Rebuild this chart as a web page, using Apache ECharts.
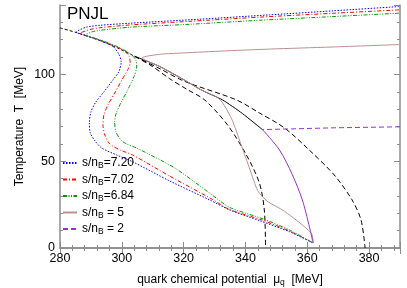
<!DOCTYPE html>
<html><head><meta charset="utf-8">
<script src="https://cdn.jsdelivr.net/npm/echarts@6/dist/echarts.min.js"></script>
<style>html,body{margin:0;padding:0;background:#fff}#c{width:407px;height:288px}</style>
</head><body><div id="c"></div>
<script>
// ---- data: [mu (MeV), T (MeV)] ----
const xTicks = [280, 300, 320, 340, 360, 380];
const yTicks = [0, 50, 100];
const names = ['s/nB=7.20', 's/nB=7.02', 's/nB=6.84', 's/nB = 5', 's/nB = 2'];

const blue720 = [[389.7,139.1],[368,136.6],[347.7,134.3],[325,131.8],[302.6,129.5],[292.9,128.3],[288.5,127.2],[285.2,124.4],
  [289,122.2],[292.9,119.6],[297.1,116.2],[299.0,111.8],[299.8,107.2],[299.0,101.4],[297.1,96.8],[294.2,89.9],[291.6,84.1],
  [290.0,78.4],[289.5,72.0],[289.8,66.3],[291.3,61.7],[293.5,57.6],[298.3,53.6],[303.5,49.7],[315.5,38.6],[328.4,27.7],
  [334.8,22.0],[344.5,15.8],[354.2,9.4],[361.9,2.9]];
const red702 = [[389.7,137.2],[368,135.2],[344.5,133.0],[322,130.6],[302.6,128.5],[292.9,126.9],[289.7,125.9],[286.5,123.6],
  [290,121.6],[294,119.1],[298,116.0],[300.6,113.9],[302.3,110.7],[302.7,106.6],[301.9,102.6],[300,96.8],[297.7,89.3],
  [295.5,82.4],[294.2,76.7],[293.9,70.9],[294.5,65.1],[296.1,59.9],[299.4,56.5],[303.5,53.6],[315.5,41.4],[329.4,27.9],
  [334.8,22.2],[345.2,16.2],[354.2,9.8],[361.9,2.9]];
const green684 = [[389.7,135.3],[368,133.3],[344.5,131.2],[322,128.9],[302.6,127.2],[292.9,125.4],[290.3,124.5],[288.1,122.5],
  [292,120.4],[296,118.0],[300,114.8],[303.0,111.6],[304.5,108.4],[304.8,104.3],[303.9,98.6],[301.9,91.1],[299.7,83.6],
  [298.2,77.8],[297.7,72.6],[298.1,66.9],[299.7,62.2],[301.6,59.9],[304.8,57.6],[317.1,46.1],[331,28.2],
  [334.8,23.4],[345.8,16.7],[354.2,10.4],[361.9,2.9]];
const rosy5 = [[389.7,117.2],[368,115.8],[347.7,114.6],[331.6,113.4],[318,112.2],[312.3,111.6],[306.5,109.5],
  [312,104.8],[320,97.0],[326,90.8],[331.5,86.0],[335.5,74.5],[338.5,60.0],[341.5,45.0],[344.0,33.0],[347,27.0],
  [352.6,21.2],[361.3,8.6],[361.9,2.9]];
const purple2Upper = [[390,69.8],[370,69.3],[345.5,68.2]];
const purple2Lower = [[345.5,68.2],[351.0,56.5],[355.2,42.1],[358.4,27.7],[360.3,15.0],[361.9,2.9]];
const crossover = [[280,126.8],[285.2,124.2],[288.1,122.5],[292.9,119.5],[298.7,115.2],[304.2,110.4]];
const firstOrder = [[304.2,110.4],[312,104.8],[320,97.0],[326,90.8],[332.6,85.3],[339,77.5],[345.5,68.2]];
const spinodalLow = [[304.2,110.4],[310,104.5],[315.5,97.5],[321,91.5],[326.8,85.3],[334.2,70.9],[340.3,53.6],
  [344.5,37.5],[346.1,21.9],[346.5,0]];
const spinodalHigh = [[304.2,110.4],[312,103.6],[320.3,96.0],[337.1,85.3],[344.5,77.8],[352.6,69.2],[360.6,56.5],
  [368.7,42.1],[374.5,27.7],[377.4,16.1],[378.7,0]];

const FONT = 'Liberation Sans';
const chart = echarts.init(document.getElementById('c'), null, {renderer: 'canvas'});

function ln(name, data, color, type, z, smooth) {
  return {name: name, type: 'line', data: data, showSymbol: false, symbol: 'none', smooth: smooth === undefined ? 0.25 : smooth,
    lineStyle: {color: color, width: 1, type: type}, itemStyle: {color: color}, z: z || 2, animation: false,
    xAxisIndex: 0, yAxisIndex: 0};
}
const axisLineStyle = {color: '#8c8c8c', width: 1.5};
const baseX = {type: 'value', min: 280, max: 390, interval: 20,
  axisLine: {show: true, lineStyle: axisLineStyle}, splitLine: {show: false},
  axisTick: {show: true, inside: true, length: 6, lineStyle: {color: '#8c8c8c'}},
  minorTick: {show: true, splitNumber: 5, length: 3, lineStyle: {color: '#8c8c8c'}}};
const baseY = {type: 'value', min: 0, max: 140, interval: 50,
  axisLine: {show: true, lineStyle: axisLineStyle}, splitLine: {show: false},
  axisTick: {show: true, inside: true, length: 6, lineStyle: {color: '#8c8c8c'}},
  minorTick: {show: true, splitNumber: 5, length: 3, lineStyle: {color: '#8c8c8c'}}};

const subMap = {
  's/nB=7.20': 's/n{sub|B}=7.20', 's/nB=7.02': 's/n{sub|B}=7.02', 's/nB=6.84': 's/n{sub|B}=6.84',
  's/nB = 5': 's/n{sub|B} = 5', 's/nB = 2': 's/n{sub|B} = 2'};

chart.setOption({
  animation: false,
  grid: {left: 60, right: 7, top: 5, bottom: 40, containLabel: false, outerBoundsMode: 'none'},
  xAxis: [
    Object.assign({}, baseX, {position: 'bottom',
      axisLabel: {show: true, color: '#000', fontFamily: FONT, fontSize: 12.5, margin: 4,
        formatter: v => xTicks.includes(v) ? String(v) : ''},
      name: 'quark chemical potential  μ{sub|q}  [MeV]', nameLocation: 'middle', nameGap: 24, nameMoveOverlap: false,
      nameTextStyle: {color: '#000', fontFamily: FONT, fontSize: 12,
        rich: {sub: {fontSize: 8.5, fontFamily: FONT, padding: [6, 0, 0, 0]}}}}),
    Object.assign({}, baseX, {position: 'top', axisLabel: {show: false}})
  ],
  yAxis: [
    Object.assign({}, baseY, {position: 'left',
      axisLabel: {show: true, color: '#000', fontFamily: FONT, fontSize: 12.5, margin: 5,
        formatter: v => yTicks.includes(v) ? String(v) : ''},
      name: 'Temperature  T  [MeV]', nameLocation: 'middle', nameGap: 34, nameMoveOverlap: false,
      nameTextStyle: {color: '#000', fontFamily: FONT, fontSize: 12}}),
    Object.assign({}, baseY, {position: 'right', axisLabel: {show: false}})
  ],
  legend: {orient: 'vertical', left: 62, top: 157, itemWidth: 14, itemHeight: 8, itemGap: 3,
    padding: 0, data: names, itemStyle: {opacity: 0},
    formatter: n => subMap[n],
    textStyle: {color: '#000', fontFamily: FONT, fontSize: 12,
      rich: {sub: {fontSize: 8.5, fontFamily: FONT, padding: [6, 0, 0, 0]}}}},
  graphic: [{type: 'text', left: 67, top: 6, style: {text: 'PNJL', font: '17px "Liberation Sans"', fill: '#000'}}],
  series: [
    ln('crossover', crossover, '#000', [3, 2], 1, 0.2),
    ln('firstOrder', firstOrder, '#000', 'solid', 1, 0.2),
    ln('spinLow', spinodalLow, '#000', [5, 3], 1, 0.3),
    ln('spinHigh', spinodalHigh, '#000', [5, 3], 1, 0.3),
    ln(names[0], blue720, '#0000ff', [1.5, 1.5], 3),
    ln(names[1], red702, '#ff0000', [4, 2, 1, 2], 3),
    ln(names[2], green684, '#009900', [4, 1.5, 1, 1.5, 1, 1.5], 3),
    ln(names[3], rosy5, '#bc8f8f', 'solid', 2),
    ln(names[4], purple2Upper, '#9932cc', [5, 3], 4, 0),
    ln('s/nB = 2 lower', purple2Lower, '#9932cc', 'solid', 4, 0.3)
  ]
});
</script></body></html>
